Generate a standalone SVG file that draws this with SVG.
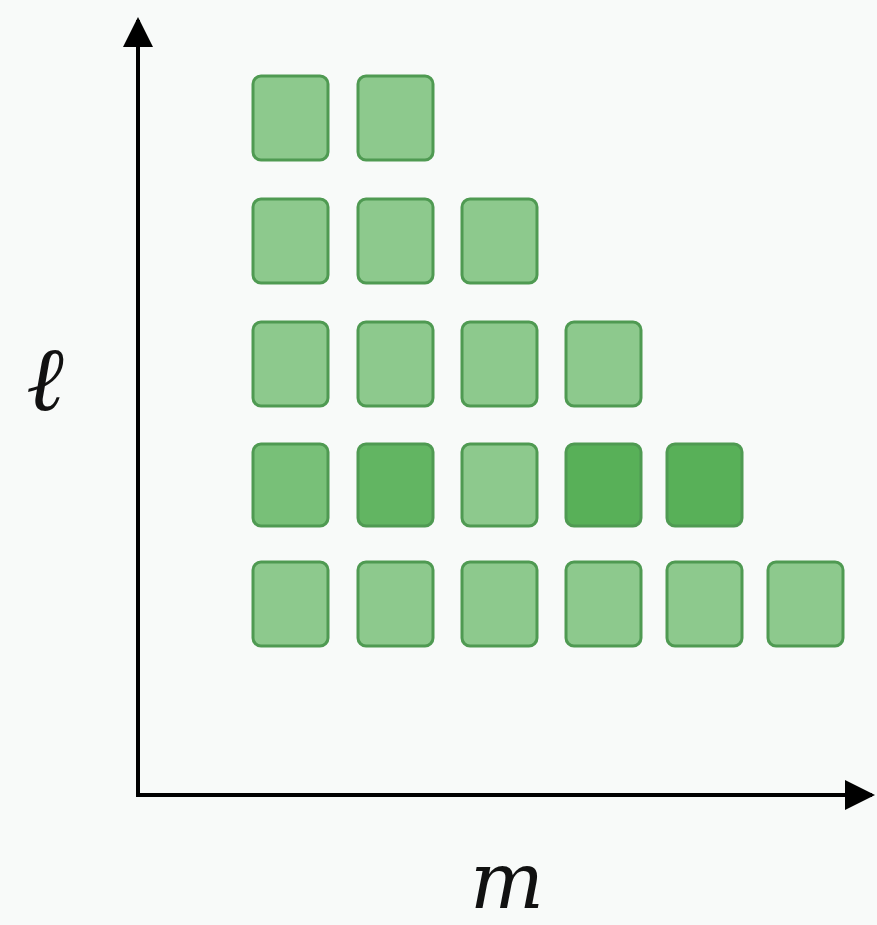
<svg xmlns="http://www.w3.org/2000/svg" width="877" height="925" viewBox="0 0 877 925">
<style>
.sq{stroke:#4f9a52;stroke-width:3;fill:#8dc98d}
.d1{fill:#78c078}
.d2{fill:#62b562}
.d3{fill:#58b058}
.ax{stroke:#000;stroke-width:4;fill:none}
.lbl{font-family:"DejaVu Serif","Liberation Serif",serif;font-style:italic;fill:#111}
</style>
<defs>
<marker id="ah" viewBox="0 0 10 10" refX="9" refY="5" markerWidth="7.5" markerHeight="7.5" markerUnits="strokeWidth" orient="auto">
<path d="M0,0 L10,5 L0,10 z" fill="#000"/>
</marker>
</defs>
<rect width="877" height="925" fill="#f8faf9"/>
<g id="connectors">
<line class="ax" x1="138" y1="797" x2="138" y2="20" marker-end="url(#ah)"/>
<line class="ax" x1="136" y1="795" x2="872" y2="795" marker-end="url(#ah)"/>
</g>
<g id="squares">
<g id="r1">
<rect class="sq" x="253" y="76" width="75" height="84" rx="8"/>
<rect class="sq" x="358" y="76" width="75" height="84" rx="8"/>
</g>
<g id="r2">
<rect class="sq" x="253" y="199" width="75" height="84" rx="8"/>
<rect class="sq" x="358" y="199" width="75" height="84" rx="8"/>
<rect class="sq" x="462" y="199" width="75" height="84" rx="8"/>
</g>
<g id="r3">
<rect class="sq" x="253" y="322" width="75" height="84" rx="8"/>
<rect class="sq" x="358" y="322" width="75" height="84" rx="8"/>
<rect class="sq" x="462" y="322" width="75" height="84" rx="8"/>
<rect class="sq" x="566" y="322" width="75" height="84" rx="8"/>
</g>
<g id="r4">
<rect class="sq d1" x="253" y="444" width="75" height="82" rx="8"/>
<rect class="sq d2" x="358" y="444" width="75" height="82" rx="8"/>
<rect class="sq" x="462" y="444" width="75" height="82" rx="8"/>
<rect class="sq d3" x="566" y="444" width="75" height="82" rx="8"/>
<rect class="sq d3" x="667" y="444" width="75" height="82" rx="8"/>
</g>
<g id="r5">
<rect class="sq" x="253" y="562" width="75" height="84" rx="8"/>
<rect class="sq" x="358" y="562" width="75" height="84" rx="8"/>
<rect class="sq" x="462" y="562" width="75" height="84" rx="8"/>
<rect class="sq" x="566" y="562" width="75" height="84" rx="8"/>
<rect class="sq" x="667" y="562" width="75" height="84" rx="8"/>
<rect class="sq" x="768" y="562" width="75" height="84" rx="8"/>
</g>
</g>
<g id="labels">
<text class="lbl" x="45" y="410" font-size="90" text-anchor="middle">ℓ</text>
<text class="lbl" x="507" y="908" font-size="78" text-anchor="middle">m</text>
</g>
</svg>
